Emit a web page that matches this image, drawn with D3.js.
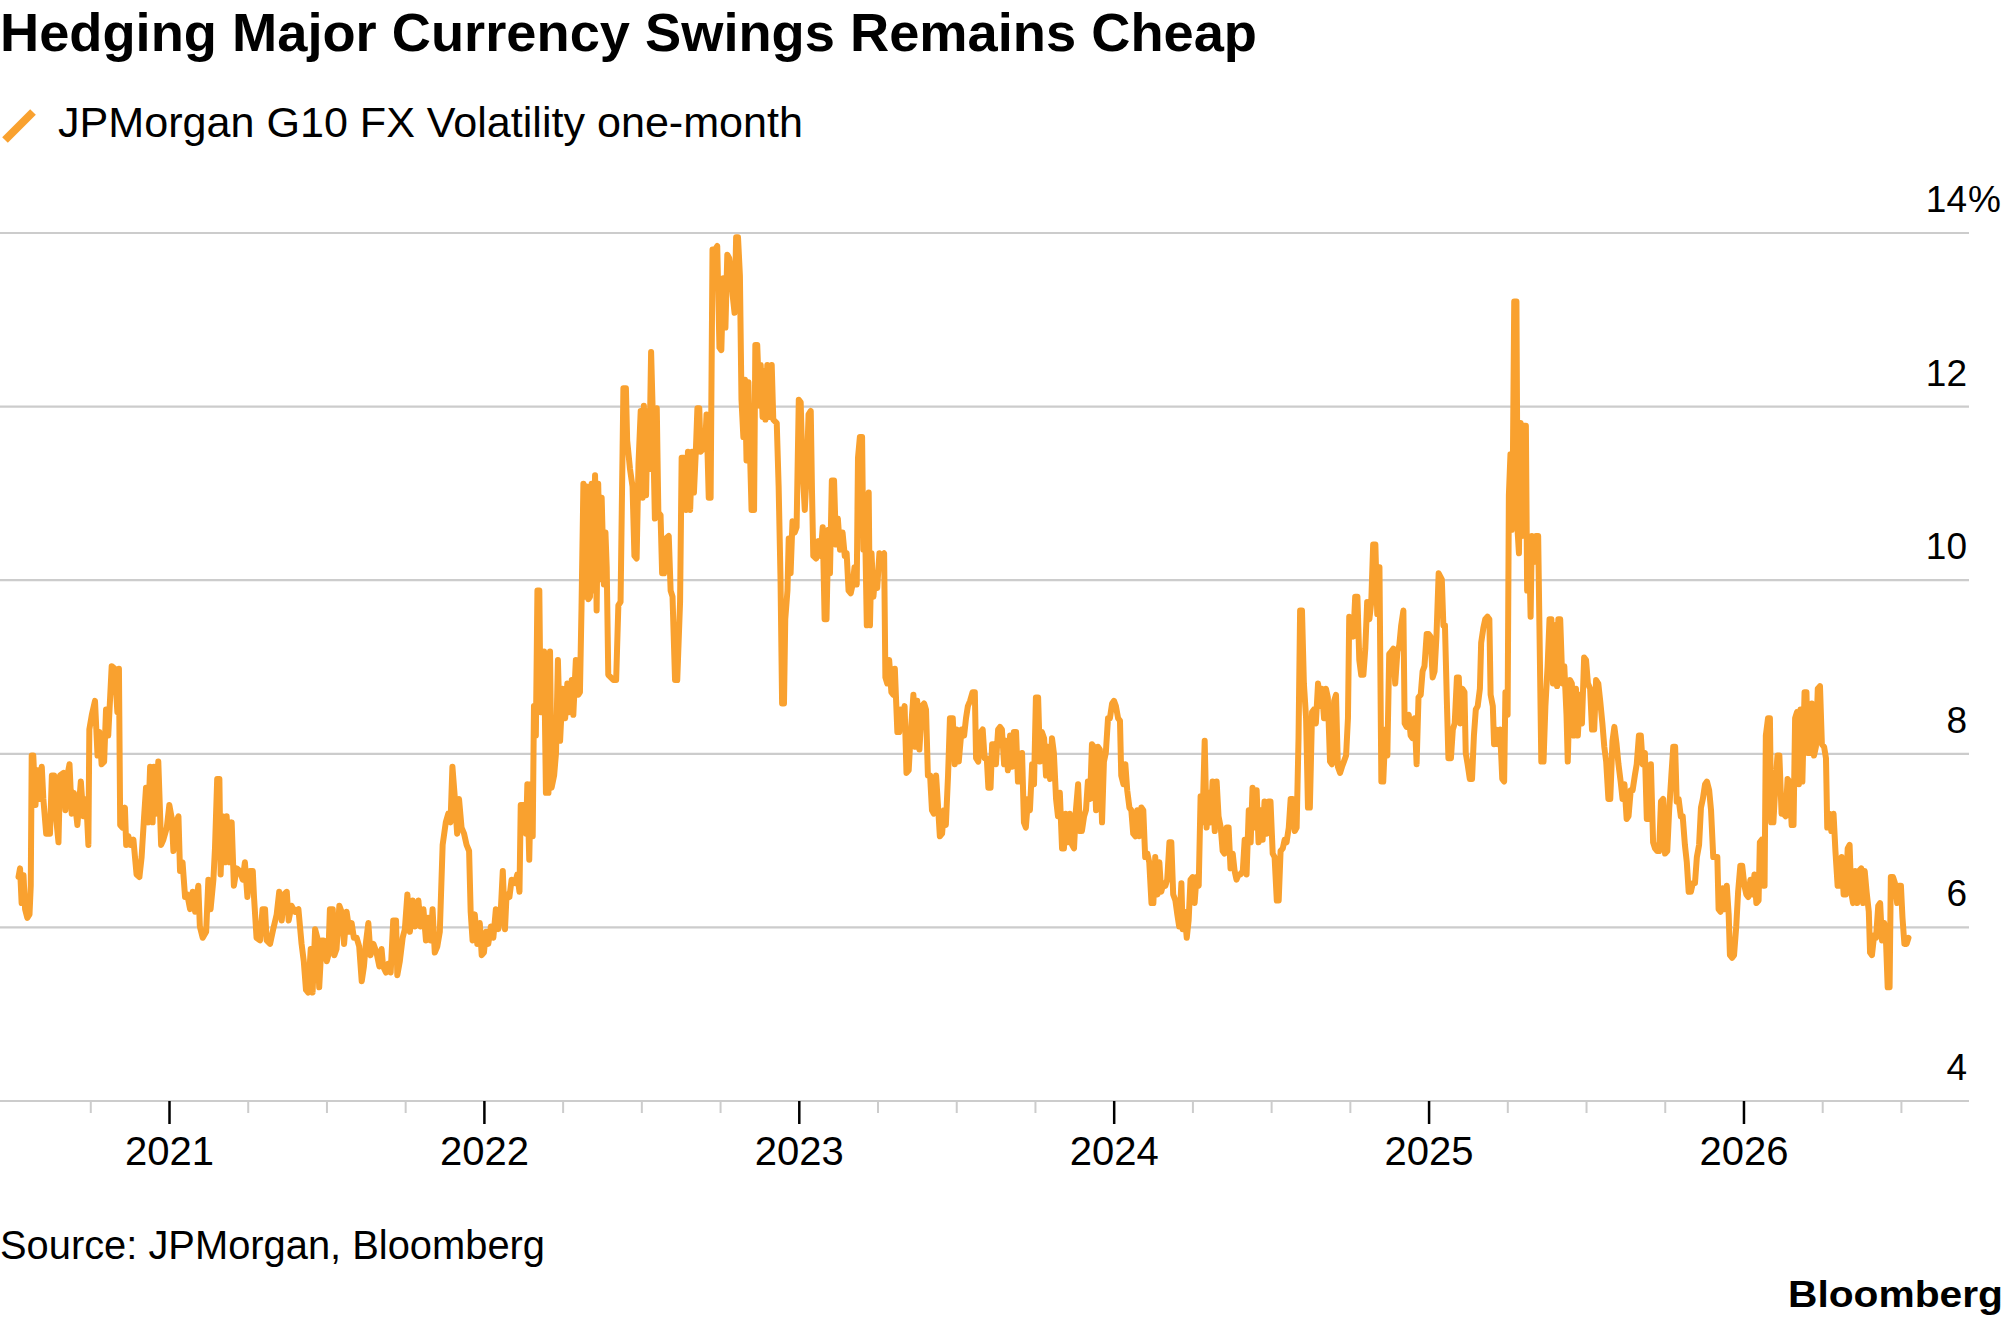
<!DOCTYPE html>
<html>
<head>
<meta charset="utf-8">
<script src="https://cdn.jsdelivr.net/npm/d3@7"></script>
<style>
  html, body { margin: 0; padding: 0; background: #fff; }
  svg { display: block; font-family: "Liberation Sans", Arial, sans-serif; }
</style>
</head>
<body>
<svg id="chart" width="2005" height="1329"></svg>
<script>
// [decimal year, one-month vol %]
const volJul20toDec21 = [[2020.522,6.58],[2020.527,6.68],[2020.532,6.28],[2020.538,6.6],[2020.543,6.21],[2020.550,6.11],[2020.557,6.15],[2020.561,6.48],[2020.564,7.98],[2020.569,7.98],[2020.576,7.41],[2020.582,7.81],[2020.588,7.48],[2020.596,7.85],[2020.601,7.48],[2020.610,7.08],[2020.622,7.08],[2020.628,7.75],[2020.635,7.75],[2020.641,7.28],[2020.649,6.98],[2020.654,7.75],[2020.665,7.78],[2020.671,7.35],[2020.675,7.71],[2020.684,7.88],[2020.691,7.31],[2020.698,7.55],[2020.709,7.18],[2020.720,7.68],[2020.728,7.28],[2020.737,7.48],[2020.744,6.95],[2020.747,8.28],[2020.755,8.45],[2020.765,8.61],[2020.773,7.98],[2020.779,8.25],[2020.786,7.88],[2020.794,7.91],[2020.800,8.51],[2020.807,8.21],[2020.818,9.01],[2020.828,8.98],[2020.836,8.48],[2020.841,8.98],[2020.845,7.18],[2020.852,7.15],[2020.860,7.38],[2020.864,6.95],[2020.871,7.05],[2020.878,6.95],[2020.887,7.01],[2020.897,6.61],[2020.906,6.58],[2020.913,6.81],[2020.921,7.28],[2020.927,7.61],[2020.934,7.21],[2020.940,7.85],[2020.948,7.21],[2020.952,7.85],[2020.958,7.31],[2020.966,7.91],[2020.975,6.95],[2020.982,7.01],[2020.993,7.15],[2021.001,7.41],[2021.009,7.25],[2021.014,6.88],[2021.022,7.21],[2021.030,7.28],[2021.035,6.65],[2021.043,6.75],[2021.051,6.35],[2021.058,6.38],[2021.067,6.21],[2021.075,6.41],[2021.083,6.18],[2021.093,6.48],[2021.098,6.01],[2021.107,5.88],[2021.118,5.95],[2021.125,6.55],[2021.132,6.21],[2021.141,6.55],[2021.146,6.91],[2021.153,7.71],[2021.160,7.71],[2021.164,6.61],[2021.170,7.28],[2021.178,6.75],[2021.183,7.28],[2021.192,6.75],[2021.199,7.21],[2021.206,6.48],[2021.215,6.68],[2021.225,6.65],[2021.234,6.55],[2021.241,6.75],[2021.249,6.35],[2021.257,6.65],[2021.266,6.65],[2021.270,6.35],[2021.278,5.88],[2021.289,5.85],[2021.297,6.21],[2021.305,6.21],[2021.310,5.85],[2021.321,5.81],[2021.331,5.98],[2021.342,6.15],[2021.350,6.41],[2021.358,6.08],[2021.365,6.38],[2021.374,6.41],[2021.380,6.08],[2021.389,6.25],[2021.400,6.18],[2021.411,6.21],[2021.421,5.81],[2021.428,5.61],[2021.435,5.28],[2021.442,5.25],[2021.450,5.75],[2021.456,5.25],[2021.464,5.98],[2021.471,5.88],[2021.477,5.31],[2021.485,5.85],[2021.492,5.85],[2021.501,5.61],[2021.506,5.68],[2021.511,6.21],[2021.520,6.21],[2021.525,5.68],[2021.532,5.75],[2021.541,6.25],[2021.548,6.18],[2021.556,5.81],[2021.564,6.18],[2021.573,5.95],[2021.580,6.05],[2021.587,5.88],[2021.596,5.88],[2021.604,5.78],[2021.612,5.38],[2021.619,5.55],[2021.625,5.81],[2021.633,6.05],[2021.640,5.68],[2021.649,5.81],[2021.659,5.71],[2021.668,5.55],[2021.675,5.75],[2021.680,5.55],[2021.689,5.48],[2021.696,5.58],[2021.704,5.48],[2021.712,6.08],[2021.721,6.08],[2021.725,5.45],[2021.733,5.61],[2021.742,5.88],[2021.749,5.98],[2021.757,6.38],[2021.765,5.95],[2021.774,6.31],[2021.781,6.01],[2021.792,6.31],[2021.799,6.01],[2021.808,6.21],[2021.816,5.85],[2021.823,6.11],[2021.831,5.85],[2021.837,6.21],[2021.844,5.71],[2021.852,5.78],[2021.860,5.95],[2021.869,6.95],[2021.879,7.21],[2021.887,7.31],[2021.894,7.21],[2021.900,7.85],[2021.908,7.48],[2021.915,7.08],[2021.921,7.48],[2021.929,7.15],[2021.937,7.08],[2021.945,6.95],[2021.953,6.88],[2021.958,6.18],[2021.964,5.85],[2021.971,6.15],[2021.979,5.81],[2021.987,6.05]]

const volJan22toJun23 = [[2021.993,5.68],[2022.000,5.71],[2022.007,5.95],[2022.014,5.81],[2022.022,6.01],[2022.030,5.88],[2022.038,6.21],[2022.046,5.98],[2022.053,6.15],[2022.060,6.65],[2022.067,5.98],[2022.072,6.38],[2022.081,6.35],[2022.088,6.55],[2022.099,6.51],[2022.106,6.61],[2022.113,6.41],[2022.117,7.41],[2022.125,7.41],[2022.134,7.08],[2022.138,7.65],[2022.144,6.78],[2022.149,7.65],[2022.155,7.05],[2022.159,8.55],[2022.165,8.21],[2022.170,9.88],[2022.176,9.88],[2022.180,8.48],[2022.187,8.48],[2022.191,9.18],[2022.197,7.55],[2022.205,7.55],[2022.210,9.18],[2022.215,7.61],[2022.223,7.75],[2022.229,8.01],[2022.235,9.08],[2022.242,8.15],[2022.250,8.75],[2022.258,8.41],[2022.265,8.81],[2022.271,8.48],[2022.279,8.85],[2022.284,8.45],[2022.292,9.08],[2022.300,8.68],[2022.305,8.71],[2022.310,9.68],[2022.316,11.11],[2022.321,9.81],[2022.326,11.08],[2022.332,9.78],[2022.337,9.81],[2022.342,11.11],[2022.348,9.88],[2022.353,11.21],[2022.358,9.65],[2022.363,11.11],[2022.369,10.01],[2022.374,10.95],[2022.381,9.95],[2022.386,10.55],[2022.390,10.15],[2022.395,8.91],[2022.403,8.88],[2022.411,8.85],[2022.420,8.85],[2022.427,9.71],[2022.434,9.75],[2022.443,12.21],[2022.451,12.21],[2022.455,11.61],[2022.464,11.28],[2022.472,11.08],[2022.478,10.28],[2022.485,10.25],[2022.491,11.35],[2022.498,11.95],[2022.504,10.95],[2022.508,12.01],[2022.515,10.98],[2022.520,11.95],[2022.525,11.28],[2022.531,12.63],[2022.536,11.95],[2022.543,10.71],[2022.549,11.98],[2022.554,10.78],[2022.561,10.75],[2022.566,10.08],[2022.572,10.08],[2022.578,10.48],[2022.587,10.51],[2022.593,9.88],[2022.599,9.81],[2022.607,8.85],[2022.614,8.85],[2022.623,9.75],[2022.628,11.41],[2022.635,11.41],[2022.642,10.81],[2022.648,11.48],[2022.655,10.81],[2022.661,11.48],[2022.667,11.01],[2022.673,11.48],[2022.678,11.98],[2022.684,11.98],[2022.688,11.48],[2022.695,11.51],[2022.702,11.51],[2022.707,11.91],[2022.714,10.95],[2022.720,10.95],[2022.726,13.81],[2022.734,13.81],[2022.741,13.85],[2022.748,12.68],[2022.754,12.65],[2022.760,13.48],[2022.767,12.91],[2022.773,13.75],[2022.779,13.71],[2022.786,13.51],[2022.790,13.28],[2022.796,13.08],[2022.801,13.95],[2022.807,13.95],[2022.813,13.51],[2022.818,12.08],[2022.824,11.65],[2022.829,12.31],[2022.834,11.38],[2022.840,12.28],[2022.845,11.48],[2022.850,10.81],[2022.858,10.81],[2022.862,12.71],[2022.868,12.71],[2022.875,12.01],[2022.879,12.48],[2022.885,11.88],[2022.889,12.41],[2022.894,11.85],[2022.900,12.48],[2022.906,11.88],[2022.914,12.48],[2022.919,11.85],[2022.930,11.81],[2022.936,11.08],[2022.942,10.01],[2022.947,8.58],[2022.953,8.58],[2022.957,9.55],[2022.964,9.88],[2022.968,10.48],[2022.974,10.08],[2022.980,10.68],[2022.987,10.55],[2022.993,10.61],[2023.000,12.08],[2023.006,12.05],[2023.012,11.28],[2023.019,10.81],[2023.025,11.21],[2023.031,11.91],[2023.038,11.95],[2023.042,11.01],[2023.046,10.28],[2023.055,10.25],[2023.062,10.45],[2023.069,10.28],[2023.076,10.61],[2023.082,9.55],[2023.088,9.55],[2023.094,10.58],[2023.099,10.08],[2023.105,11.15],[2023.112,11.15],[2023.118,10.41],[2023.124,10.71],[2023.131,10.35],[2023.139,10.55],[2023.146,10.28],[2023.152,10.31],[2023.158,9.88],[2023.165,9.85],[2023.171,9.95],[2023.177,10.15],[2023.184,9.95],[2023.188,11.41],[2023.194,11.65],[2023.201,11.65],[2023.205,10.35],[2023.211,10.51],[2023.216,9.48],[2023.222,11.01],[2023.226,9.48],[2023.231,10.31],[2023.237,9.81],[2023.243,10.08],[2023.249,9.91],[2023.256,10.31],[2023.263,10.28],[2023.271,10.31],[2023.275,8.88],[2023.281,8.81],[2023.287,9.08],[2023.294,8.71],[2023.300,8.68],[2023.305,8.98],[2023.313,8.25],[2023.319,8.25],[2023.323,8.51],[2023.330,8.45],[2023.336,8.55],[2023.342,7.78],[2023.349,7.81],[2023.355,8.21],[2023.364,8.68],[2023.370,8.08],[2023.376,8.61],[2023.383,8.05],[2023.391,8.55],[2023.398,8.58],[2023.404,8.51],[2023.410,7.75],[2023.417,7.75],[2023.423,7.35],[2023.429,7.31],[2023.436,7.75],[2023.443,7.35],[2023.448,7.05],[2023.455,7.08],[2023.461,7.35],[2023.467,7.18],[2023.474,7.75],[2023.480,8.41],[2023.489,8.41],[2023.495,7.88],[2023.501,8.28],[2023.508,7.91]]

const volJul23toDec24 = [[2023.517,8.28],[2023.525,8.21],[2023.531,8.41],[2023.537,8.55],[2023.544,8.61],[2023.552,8.71],[2023.559,8.71],[2023.563,7.95],[2023.570,7.91],[2023.578,8.25],[2023.584,8.28],[2023.590,7.95],[2023.597,7.95],[2023.602,7.61],[2023.609,7.61],[2023.614,8.11],[2023.620,8.11],[2023.626,7.88],[2023.633,8.28],[2023.639,8.31],[2023.645,8.28],[2023.652,7.88],[2023.658,8.15],[2023.664,7.81],[2023.671,8.21],[2023.677,7.85],[2023.683,8.25],[2023.690,8.25],[2023.696,7.68],[2023.702,7.68],[2023.709,8.01],[2023.715,7.21],[2023.721,7.15],[2023.728,7.48],[2023.734,7.35],[2023.741,7.88],[2023.747,7.65],[2023.753,8.65],[2023.760,8.65],[2023.766,7.91],[2023.772,8.25],[2023.779,8.18],[2023.785,7.75],[2023.791,8.08],[2023.798,7.71],[2023.804,8.18],[2023.810,8.01],[2023.817,7.48],[2023.823,7.28],[2023.829,7.55],[2023.836,6.91],[2023.842,6.91],[2023.848,7.31],[2023.855,6.98],[2023.861,7.31],[2023.868,6.95],[2023.874,6.91],[2023.880,7.35],[2023.887,7.65],[2023.893,7.11],[2023.899,7.11],[2023.906,7.28],[2023.912,7.35],[2023.918,7.68],[2023.925,7.48],[2023.931,8.11],[2023.937,8.08],[2023.944,7.35],[2023.950,8.08],[2023.956,8.05],[2023.963,7.21],[2023.969,7.91],[2023.975,8.01],[2023.982,8.41],[2023.988,8.41],[2023.995,8.58],[2024.001,8.61],[2024.007,8.55],[2024.014,8.41],[2024.020,8.38],[2024.024,7.75],[2024.031,7.65],[2024.037,7.88],[2024.043,7.58],[2024.050,7.38],[2024.056,7.35],[2024.062,7.08],[2024.069,7.05],[2024.075,7.35],[2024.081,7.05],[2024.088,7.38],[2024.094,7.35],[2024.100,6.81],[2024.107,6.85],[2024.113,6.75],[2024.120,6.28],[2024.126,6.28],[2024.132,6.81],[2024.139,6.38],[2024.145,6.75],[2024.151,6.41],[2024.158,6.51],[2024.164,6.48],[2024.170,6.55],[2024.177,6.98],[2024.183,6.98],[2024.189,6.38],[2024.196,6.31],[2024.202,6.15],[2024.208,6.01],[2024.215,6.51],[2024.219,5.98],[2024.225,6.18],[2024.232,5.88],[2024.238,6.08],[2024.244,6.55],[2024.251,6.58],[2024.257,6.28],[2024.263,6.58],[2024.270,6.48],[2024.276,7.51],[2024.282,7.21],[2024.289,8.15],[2024.295,7.15],[2024.302,7.55],[2024.308,7.21],[2024.314,7.68],[2024.321,7.11],[2024.327,7.68],[2024.333,7.28],[2024.340,7.15],[2024.346,6.88],[2024.352,6.85],[2024.359,7.15],[2024.365,7.15],[2024.371,6.68],[2024.378,6.85],[2024.384,6.65],[2024.390,6.55],[2024.397,6.61],[2024.403,6.61],[2024.410,6.65],[2024.416,7.01],[2024.422,6.61],[2024.429,7.35],[2024.435,6.98],[2024.441,7.61],[2024.448,7.15],[2024.454,7.58],[2024.460,6.98],[2024.467,7.35],[2024.473,7.01],[2024.479,7.45],[2024.486,7.08],[2024.492,7.45],[2024.498,7.45],[2024.505,6.85],[2024.511,6.81],[2024.518,6.31],[2024.524,6.31],[2024.530,6.88],[2024.537,6.91],[2024.543,7.01],[2024.549,6.98],[2024.556,7.15],[2024.562,7.48],[2024.568,7.48],[2024.575,7.11],[2024.581,7.15],[2024.587,8.18],[2024.592,9.65],[2024.598,9.65],[2024.604,8.81],[2024.611,8.41],[2024.617,7.38],[2024.623,7.38],[2024.630,8.48],[2024.636,8.51],[2024.642,8.35],[2024.649,8.81],[2024.655,8.55],[2024.661,8.75],[2024.668,8.41],[2024.674,8.75],[2024.680,8.65],[2024.687,7.91],[2024.693,7.88],[2024.700,8.61],[2024.706,8.68],[2024.712,7.85],[2024.719,7.78],[2024.725,7.85],[2024.731,7.91],[2024.738,7.98],[2024.744,8.41],[2024.748,9.58],[2024.755,9.55],[2024.761,9.35],[2024.767,9.81],[2024.774,9.81],[2024.780,9.08],[2024.786,8.91],[2024.793,8.91],[2024.799,9.21],[2024.805,9.75],[2024.812,9.55],[2024.818,9.75],[2024.824,10.41],[2024.831,10.41],[2024.837,9.61],[2024.844,10.15],[2024.850,7.68],[2024.856,7.68],[2024.863,8.28],[2024.869,7.98],[2024.875,9.15],[2024.882,9.18],[2024.888,9.21],[2024.894,8.81],[2024.901,9.18],[2024.907,9.25],[2024.913,9.48],[2024.920,9.65],[2024.924,8.35],[2024.930,8.31],[2024.937,8.45],[2024.943,8.21],[2024.949,8.18],[2024.956,8.41],[2024.962,7.88],[2024.968,8.65],[2024.975,8.68],[2024.981,8.95],[2024.987,9.01],[2024.994,9.38],[2025.000,9.38],[2025.006,9.35],[2025.013,8.88],[2025.019,8.95],[2025.025,9.35],[2025.032,10.08]]

const volJan25toJul26 = [[2025.042,10.01],[2025.047,9.48],[2025.052,9.48],[2025.058,8.61],[2025.063,7.95],[2025.071,7.95],[2025.077,8.28],[2025.083,8.35],[2025.090,8.88],[2025.096,8.88],[2025.101,8.35],[2025.107,8.75],[2025.114,8.71],[2025.118,8.01],[2025.124,7.88],[2025.131,7.71],[2025.138,7.71],[2025.144,8.21],[2025.150,8.51],[2025.156,8.55],[2025.163,8.75],[2025.167,9.28],[2025.174,9.45],[2025.180,9.55],[2025.187,9.58],[2025.193,9.55],[2025.197,8.68],[2025.204,8.55],[2025.208,8.11],[2025.214,8.28],[2025.221,8.11],[2025.227,8.28],[2025.234,7.71],[2025.240,7.68],[2025.244,8.71],[2025.251,8.45],[2025.255,10.98],[2025.260,11.45],[2025.264,10.58],[2025.268,11.48],[2025.272,13.21],[2025.279,13.21],[2025.283,10.55],[2025.287,10.31],[2025.292,11.81],[2025.296,10.51],[2025.302,11.78],[2025.309,11.78],[2025.313,9.88],[2025.320,10.28],[2025.324,9.58],[2025.328,10.51],[2025.335,10.21],[2025.341,10.51],[2025.348,10.51],[2025.352,9.48],[2025.358,7.91],[2025.365,7.91],[2025.371,8.55],[2025.378,9.01],[2025.384,9.55],[2025.390,9.55],[2025.395,8.81],[2025.401,9.48],[2025.408,8.78],[2025.412,9.55],[2025.418,9.55],[2025.425,8.81],[2025.431,9.01],[2025.438,8.45],[2025.442,7.91],[2025.449,8.85],[2025.455,8.81],[2025.461,8.21],[2025.468,8.75],[2025.474,8.21],[2025.481,8.68],[2025.487,8.35],[2025.494,9.11],[2025.500,9.08],[2025.506,8.81],[2025.513,8.75],[2025.519,8.28],[2025.526,8.28],[2025.532,8.85],[2025.539,8.81],[2025.545,8.61],[2025.552,8.35],[2025.558,8.08],[2025.564,7.91],[2025.571,7.48],[2025.577,7.48],[2025.584,8.15],[2025.590,8.31],[2025.597,8.11],[2025.603,7.88],[2025.610,7.68],[2025.616,7.48],[2025.622,7.65],[2025.629,7.25],[2025.635,7.28],[2025.642,7.58],[2025.648,7.58],[2025.655,7.75],[2025.661,7.88],[2025.668,8.21],[2025.674,8.21],[2025.680,7.88],[2025.687,8.01],[2025.693,7.25],[2025.700,7.25],[2025.706,7.88],[2025.713,6.98],[2025.719,6.91],[2025.726,6.88],[2025.732,6.88],[2025.738,7.45],[2025.745,7.48],[2025.751,6.85],[2025.758,6.88],[2025.764,7.35],[2025.771,7.75],[2025.777,8.08],[2025.783,8.08],[2025.788,7.45],[2025.794,7.48],[2025.801,7.28],[2025.807,7.28],[2025.814,6.95],[2025.820,6.75],[2025.826,6.41],[2025.833,6.41],[2025.839,6.51],[2025.846,6.51],[2025.852,6.81],[2025.859,6.95],[2025.865,7.38],[2025.871,7.48],[2025.878,7.65],[2025.884,7.68],[2025.891,7.58],[2025.897,7.35],[2025.904,6.81],[2025.910,6.81],[2025.917,6.81],[2025.921,6.21],[2025.927,6.18],[2025.934,6.45],[2025.940,6.21],[2025.947,6.48],[2025.953,6.15],[2025.957,5.68],[2025.964,5.65],[2025.970,5.68],[2025.977,6.01],[2025.983,6.41],[2025.990,6.71],[2025.996,6.71],[2026.003,6.48],[2026.009,6.38],[2026.015,6.35],[2026.022,6.55],[2026.028,6.38],[2026.035,6.61],[2026.041,6.28],[2026.048,6.31],[2026.052,6.98],[2026.058,7.01],[2026.063,6.48],[2026.067,6.48],[2026.071,8.21],[2026.078,8.41],[2026.084,8.41],[2026.088,7.21],[2026.095,7.21],[2026.101,7.61],[2026.108,7.98],[2026.114,7.98],[2026.121,7.31],[2026.127,7.31],[2026.134,7.28],[2026.140,7.71],[2026.146,7.68],[2026.153,7.18],[2026.159,7.18],[2026.164,8.41],[2026.170,8.48],[2026.176,7.65],[2026.181,8.51],[2026.187,7.68],[2026.194,8.71],[2026.200,8.71],[2026.204,8.01],[2026.211,8.01],[2026.217,8.58],[2026.224,7.98],[2026.230,8.08],[2026.236,8.75],[2026.243,8.78],[2026.249,8.11],[2026.256,8.08],[2026.262,7.95],[2026.266,7.15],[2026.273,7.31],[2026.279,7.11],[2026.286,7.31],[2026.292,6.88],[2026.299,6.48],[2026.305,6.48],[2026.312,6.81],[2026.318,6.38],[2026.325,6.38],[2026.331,6.91],[2026.337,6.95],[2026.342,6.41],[2026.348,6.28],[2026.355,6.65],[2026.361,6.28],[2026.367,6.65],[2026.374,6.68],[2026.380,6.28],[2026.385,6.65],[2026.391,6.41],[2026.398,6.18],[2026.402,5.71],[2026.408,5.68],[2026.415,5.91],[2026.421,5.88],[2026.428,6.25],[2026.434,6.28],[2026.440,5.85],[2026.447,6.05],[2026.453,5.81],[2026.458,5.31],[2026.464,5.31],[2026.468,6.58],[2026.475,6.58],[2026.481,6.51],[2026.488,6.28],[2026.494,6.48],[2026.500,6.48],[2026.505,6.11],[2026.511,5.81],[2026.518,5.81],[2026.524,5.88]]

const yTicks = [4, 6, 8, 10, 12, 14]
const yearTicks = [2021, 2022, 2023, 2024, 2025, 2026]
const seriesName = "JPMorgan G10 FX Volatility one-month"

const orange = "#f9a12f"
const grid = "#cccccc"

const data = volJul20toDec21.concat(volJan22toJun23, volJul23toDec24, volJan25toJul26)
  .map(([t, v]) => ({t, v}))

const svg = d3.select("#chart")

const x = d3.scaleLinear().domain([2020.4633, 2026.7162]).range([0, 1969])
const y = d3.scaleLinear().domain([4, 14]).range([1101, 233])

// title + legend
svg.append("text")
  .attr("x", 0).attr("y", 51)
  .attr("font-size", 53).attr("font-weight", "bold")
  .attr("textLength", 1257).attr("lengthAdjust", "spacingAndGlyphs")
  .text("Hedging Major Currency Swings Remains Cheap")

svg.append("line")
  .attr("x1", 5).attr("y1", 140).attr("x2", 33).attr("y2", 112)
  .attr("stroke", orange).attr("stroke-width", 8)

svg.append("text")
  .attr("x", 58).attr("y", 137)
  .attr("font-size", 42)
  .attr("textLength", 745).attr("lengthAdjust", "spacingAndGlyphs")
  .text(seriesName)

// gridlines and y labels
const gy = svg.append("g").attr("class", "y-grid")

gy.selectAll("line")
  .data(yTicks)
  .join("line")
  .attr("x1", 0).attr("x2", 1969)
  .attr("y1", d => y(d)).attr("y2", d => y(d))
  .attr("stroke", grid).attr("stroke-width", 2.2)

gy.selectAll("text")
  .data(yTicks)
  .join("text")
  .attr("x", 1967)
  .attr("y", d => y(d) - 21)
  .attr("text-anchor", "end")
  .attr("font-size", 37)
  .text(d => d)

gy.append("text")
  .attr("x", 1968).attr("y", y(14) - 21)
  .attr("font-size", 37)
  .text("%")

// x axis: quarterly minor ticks, yearly major ticks
const minorTicks = d3.range(2020.75, 2026.6, 0.25).filter(d => d % 1 !== 0)

const minorAxis = svg.append("g")
  .attr("transform", "translate(0," + y(4) + ")")
  .call(d3.axisBottom(x).tickValues(minorTicks).tickSize(12).tickFormat(""))
minorAxis.select(".domain").remove()
minorAxis.selectAll(".tick line").attr("stroke", grid).attr("stroke-width", 2)

const majorAxis = svg.append("g")
  .attr("transform", "translate(0," + y(4) + ")")
  .call(d3.axisBottom(x).tickValues(yearTicks).tickSize(23).tickPadding(0).tickFormat(d => d))
majorAxis.select(".domain").remove()
majorAxis.selectAll(".tick line").attr("stroke", "#000").attr("stroke-width", 2.5)
majorAxis.selectAll(".tick text")
  .attr("y", 64).attr("dy", 0)
  .attr("fill", "#000")
  .attr("font-size", 40)
  .attr("font-family", "Liberation Sans, Arial, sans-serif")

// the series
const line = d3.line()
  .x(d => x(d.t))
  .y(d => y(d.v))

svg.append("path")
  .datum(data)
  .attr("d", line)
  .attr("fill", "none")
  .attr("stroke", orange)
  .attr("stroke-width", 6)
  .attr("stroke-linejoin", "round")
  .attr("stroke-linecap", "round")

// footer
svg.append("text")
  .attr("x", 0).attr("y", 1259)
  .attr("font-size", 40)
  .attr("textLength", 545).attr("lengthAdjust", "spacingAndGlyphs")
  .text("Source: JPMorgan, Bloomberg")

svg.append("text")
  .attr("x", 2003).attr("y", 1307)
  .attr("text-anchor", "end")
  .attr("font-size", 36).attr("font-weight", "bold")
  .attr("textLength", 215).attr("lengthAdjust", "spacingAndGlyphs")
  .text("Bloomberg")
</script>
</body>
</html>
